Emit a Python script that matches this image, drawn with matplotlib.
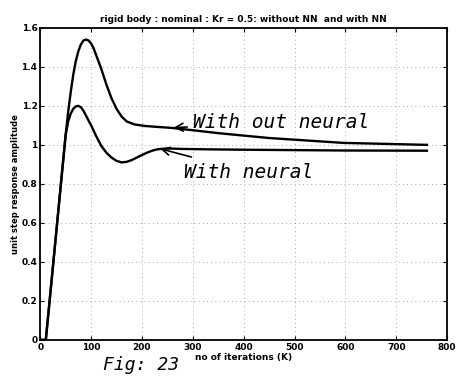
import numpy as np
import matplotlib
matplotlib.use("Agg")
import matplotlib.pyplot as plt

# Step response
iters_without = [0, 11, 20, 30, 40, 50, 55, 60, 65, 70, 75, 80, 85, 90, 95, 100,
                 105, 110, 120, 130, 140, 150, 160, 170, 185, 205, 230, 258, 300,
                 350, 450, 596, 760]
resp_without = [0, 0, 0.24, 0.51, 0.78, 1.05, 1.17, 1.27, 1.36, 1.43, 1.48, 1.515,
                1.535, 1.54, 1.535, 1.52, 1.495, 1.46, 1.39, 1.31, 1.24, 1.185,
                1.145, 1.12, 1.105, 1.097, 1.092, 1.087, 1.075, 1.06, 1.035, 1.01,
                1.0]

iters_with = [0, 11, 20, 30, 40, 50, 55, 60, 65, 70, 75, 80, 85, 90, 95, 101,
              110, 120, 130, 140, 150, 160, 170, 180, 190, 200, 210, 220, 230,
              240, 255, 280, 330, 400, 500, 600, 760]
resp_with = [0, 0, 0.24, 0.51, 0.78, 1.05, 1.12, 1.16, 1.185, 1.197, 1.2, 1.193,
             1.175, 1.15, 1.125, 1.095, 1.045, 0.995, 0.96, 0.935, 0.918, 0.91,
             0.913, 0.922, 0.935, 0.948, 0.96, 0.97, 0.977, 0.98, 0.981, 0.979,
             0.977, 0.975, 0.973, 0.971, 0.97]

x_ticks = [0, 100, 200, 300, 400, 500, 600, 700, 800]
y_ticks = [0, 0.2, 0.4, 0.6, 0.8, 1, 1.2, 1.4, 1.6]
y_ticklabels = ["0", "0.2", "0.4", "0.6", "0.8", "1", "1.2", "1.4", "1.6"]

fig = plt.figure(figsize=(4.62, 3.76), dpi=100)
ax = fig.add_axes([0.087, 0.096, 0.881, 0.83])

ax.plot(iters_without, resp_without, color="black", linewidth=1.7,
        solid_joinstyle="round")
ax.plot(iters_with, resp_with, color="black", linewidth=1.7,
        solid_joinstyle="round")

ax.set_xlim(0, 800)
ax.set_ylim(0, 1.6)
ax.set_xticks(x_ticks)
ax.set_yticks(y_ticks)
ax.set_yticklabels(y_ticklabels)
ax.tick_params(direction="in", top=True, right=True, length=3, labelsize=6.5, pad=2)
for lbl in ax.get_xticklabels() + ax.get_yticklabels():
    lbl.set_fontweight("bold")
ax.grid(True, color="black", linestyle=(0, (1, 4)), linewidth=0.6, alpha=0.45)
for sp in ax.spines.values():
    sp.set_linewidth(1.3)

ax.set_title("rigid body : nominal : Kr = 0.5: without NN  and with NN",
             fontsize=6.5, fontweight="bold", pad=4)
ax.set_xlabel("no of iterations (K)", fontsize=6.5, fontweight="bold", labelpad=1)
ax.set_ylabel("unit step response amplitude", fontsize=6, fontweight="bold", labelpad=1)

# handwritten notes on the scan
hand = dict(family="DejaVu Sans Mono", fontsize=14, fontstyle="italic", color="black")
ax.annotate("With out neural", xy=(262, 1.088), xytext=(300, 1.115),
            ha="left", va="center", annotation_clip=False,
            arrowprops=dict(arrowstyle="->", color="black", lw=1.2,
                            shrinkA=2, shrinkB=0), **hand)
ax.annotate("With neural", xy=(236, 0.98), xytext=(282, 0.86),
            ha="left", va="center",
            arrowprops=dict(arrowstyle="->", color="black", lw=1.2,
                            shrinkA=8, shrinkB=0), **hand)

fig.text(0.222, 0.029, "Fig: 23", family="DejaVu Sans Mono", fontsize=13,
         fontstyle="italic", ha="left", va="center")

fig.savefig("out.png", dpi=100, facecolor="white")
